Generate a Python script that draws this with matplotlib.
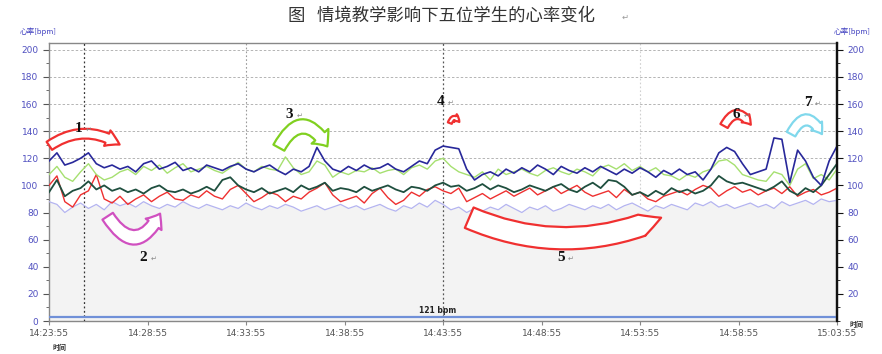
import matplotlib
matplotlib.use("Agg")
import matplotlib.pyplot as plt
import numpy as np
from matplotlib.patches import FancyArrowPatch
from matplotlib.ticker import MultipleLocator

plt.rcParams['font.family'] = ['Noto Sans CJK SC', 'DejaVu Sans']

# time axis: minutes after 14:23:55, sampled every 0.4 min
step = 0.4
tick_labels = ["14:23:55", "14:28:55", "14:33:55", "14:38:55", "14:43:55",
               "14:48:55", "14:53:55", "14:58:55", "15:03:55"]

navy = [118, 124, 115, 117, 120, 124, 116, 113, 115, 112,
        114, 110, 116, 118, 112, 114, 117, 111, 113, 110,
        115, 113, 111, 114, 116, 112, 110, 113, 115, 111,
        108, 112, 110, 114, 128, 118, 112, 110, 114, 111,
        115, 112, 113, 116, 112, 110, 114, 118, 116, 126,
        129, 128, 127, 112, 104, 108, 110, 107, 112, 109,
        113, 110, 115, 112, 108, 114, 111, 109, 113, 110,
        114, 111, 108, 112, 109, 113, 110, 106, 111, 108,
        112, 108, 110, 104, 112, 124, 128, 125, 116, 108,
        110, 112, 135, 134, 102, 126, 118, 106, 100, 118,
        129]

lime = [108, 114, 106, 103, 110, 116, 108, 104, 106, 110,
        112, 108, 114, 111, 115, 109, 113, 116, 110, 112,
        114, 111, 109, 113, 117, 112, 110, 114, 112, 111,
        121, 113, 108, 110, 118, 115, 106, 110, 108, 111,
        110, 113, 109, 111, 112, 108, 113, 115, 112, 118,
        120, 114, 110, 108, 106, 110, 104, 112, 108, 110,
        112, 109, 107, 111, 113, 110, 108, 112, 110, 107,
        113, 115, 112, 116, 111, 114, 110, 113, 108, 107,
        104, 108, 106, 110, 112, 118, 119, 115, 108, 106,
        104, 103, 110, 108, 100, 112, 116, 105, 108, 104,
        112]

teal = [95, 104, 92, 96, 98, 103, 97, 100, 96, 98,
        95, 97, 94, 98, 100, 96, 95, 97, 94, 96,
        99, 96, 104, 106, 100, 97, 95, 98, 94, 96,
        98, 95, 100, 97, 99, 102, 96, 98, 97, 95,
        99, 96, 98, 100, 97, 95, 99, 98, 96, 100,
        102, 99, 100, 96, 98, 101, 97, 100, 98, 95,
        97, 100, 98, 96, 99, 101, 97, 95, 99, 102,
        98, 104, 103, 99, 93, 95, 92, 96, 93, 98,
        95, 97, 94, 96, 100, 107, 103, 101, 102, 100,
        98, 96, 99, 103, 96, 93, 98, 95, 100, 108,
        116]

red = [100, 107, 88, 84, 93, 96, 108, 90, 87, 92,
       86, 90, 93, 88, 92, 95, 90, 89, 93, 91,
       96, 92, 90, 97, 100, 94, 88, 91, 95, 93,
       88, 92, 90, 95, 98, 102, 93, 88, 90, 92,
       87, 94, 98, 91, 86, 89, 95, 92, 97, 99,
       96, 94, 98, 88, 91, 94, 90, 93, 96, 92,
       95, 98, 93, 96, 99, 94, 97, 100, 95, 92,
       94, 96, 91, 97, 93, 95, 90, 88, 92, 94,
       96, 93, 97, 100, 98, 92, 96, 99, 95, 97,
       93, 96, 98, 94, 99, 92, 95, 97, 93, 95,
       98]

lavender = [88, 86, 80, 84, 87, 83, 86, 82, 88, 85,
            87, 84, 88, 85, 83, 86, 84, 88, 85, 83,
            86, 84, 82, 85, 83, 87, 84, 82, 85, 83,
            86, 84, 81, 83, 85, 82, 84, 86, 83, 85,
            82, 84, 86, 83, 81, 85, 83, 87, 84, 89,
            86, 82, 84, 80, 83, 81, 84, 82, 86, 83,
            80, 84, 82, 85, 81, 83, 86, 84, 82, 85,
            83, 86, 82, 85, 87, 84, 81, 85, 83, 86,
            84, 82, 87, 85, 88, 84, 86, 83, 85, 87,
            84, 86, 83, 88, 85, 87, 89, 86, 90, 88,
            89]

baseline_bpm = 3
baseline_label = "121 bpm"

t = np.arange(len(navy)) * step

fig = plt.figure(figsize=(8.82, 3.54), dpi=100)
ax = fig.add_axes([0.0556, 0.0932, 0.8934, 0.7853])

ax.set_xlim(0, 40)
ax.set_ylim(0, 205)

# grid: horizontal dashed lines in the upper band, vertical every 10 min
for yv in [120, 140, 160, 180, 200]:
    ax.axhline(yv, color="#b4b4b4", ls=(0, (2.5, 2)), lw=0.7, zorder=0)
ax.axvline(10, color="#9a9a9a", ls=(0, (1.5, 2)), lw=0.8, zorder=0)
ax.axvline(30, color="#d0d0d0", ls=(0, (1.5, 2)), lw=0.8, zorder=0)
ax.axvline(20, color="#555555", ls=(0, (1.5, 2)), lw=0.9, zorder=3)
ax.axvline(1.8, color="#333333", ls=(0, (1.5, 2)), lw=0.9, zorder=3)

ax.fill_between(t, 0, lavender, color="#f3f3f3", zorder=1, lw=0)

ax.plot(t, lavender, color="#b4b4f0", lw=0.9, zorder=4)
ax.plot(t, red, color="#ee3030", lw=1.0, zorder=5)
ax.plot(t, teal, color="#1f4f3f", lw=1.3, zorder=6)
ax.plot(t, lime, color="#a6e070", lw=1.0, zorder=5)
ax.plot(t, navy, color="#28289a", lw=1.2, zorder=7)

ax.axhline(baseline_bpm, color="#7090d8", lw=1.6, zorder=4)
ax.text(18.8, baseline_bpm + 3, baseline_label, fontsize=5.5, color="#222222",
        fontweight="bold", family="DejaVu Sans")

# axes frame
for side in ["left", "top", "bottom"]:
    ax.spines[side].set_color("#888888")
    ax.spines[side].set_linewidth(1.0)
ax.spines["right"].set_color("#111111")
ax.spines["right"].set_linewidth(1.6)

ax.set_xticks(np.arange(0, 41, 5))
ax.set_xticklabels(tick_labels, fontsize=6.5, color="#555555", family="DejaVu Sans")
ax.tick_params(axis="x", length=3, color="#888888", pad=3)

ax.yaxis.set_major_locator(MultipleLocator(20))
ax.yaxis.set_minor_locator(MultipleLocator(10))
ax.tick_params(axis="y", which="major", length=4, labelsize=6.5,
               labelcolor="#5050c0", color="#555555")
ax.tick_params(axis="y", which="minor", length=2, color="#555555")
for lbl in ax.get_yticklabels():
    lbl.set_family("DejaVu Sans")

# right-hand bpm scale (no label at zero)
axr = ax.twinx()
axr.set_ylim(ax.get_ylim())
axr.set_yticks(np.arange(20, 201, 20))
axr.yaxis.set_minor_locator(MultipleLocator(10))
axr.tick_params(axis="y", which="major", length=4, labelsize=6.5,
                labelcolor="#5050c0", color="#111111")
axr.tick_params(axis="y", which="minor", length=2, color="#111111")
for lbl in axr.get_yticklabels():
    lbl.set_family("DejaVu Sans")
for side in ["left", "top", "bottom"]:
    axr.spines[side].set_visible(False)
axr.spines["right"].set_color("#111111")
axr.spines["right"].set_linewidth(1.6)

# axis captions
fig.text(0.022, 0.905, "心率[bpm]", fontsize=5.5, color="#4040c0")
fig.text(0.945, 0.905, "心率[bpm]", fontsize=5.5, color="#4040c0")
fig.text(0.060, 0.012, "时间", fontsize=5, color="#333333", fontweight="bold")
fig.text(0.963, 0.075, "时间", fontsize=5, color="#333333", fontweight="bold")

fig.text(0.5, 0.955, "图   情境教学影响下五位学生的心率变化", fontsize=12.5,
         color="#333333", ha="center", va="center")
fig.text(0.705, 0.95, "↵", fontsize=6, color="#999999", va="center",
         family="DejaVu Sans")


def curved_arrow(p0, p1, rad, color, head_len, head_w, tail_w, scale=10):
    arr = FancyArrowPatch(
        p0, p1,
        connectionstyle=f"arc3,rad={rad}",
        arrowstyle=f"simple,head_length={head_len},head_width={head_w},tail_width={tail_w}",
        mutation_scale=scale, facecolor="white", edgecolor=color, lw=1.6,
        zorder=9, clip_on=False)
    ax.add_patch(arr)


curved_arrow((-0.1, 128), (3.7, 129), -0.35, "#f03030", 1.0, 1.2, 0.7)
curved_arrow((2.9, 79), (5.7, 81), 0.9, "#d050c0", 0.9, 1.4, 0.9)
curved_arrow((11.6, 126), (14.2, 127), -0.9, "#80d020", 0.9, 1.6, 0.9)
curved_arrow((20.3, 144), (20.9, 145), -1.2, "#f03030", 0.4, 0.6, 0.3)
curved_arrow((21.2, 77), (31.2, 77), 0.22, "#f03030", 1.5, 1.6, 1.6)
curved_arrow((34.2, 142), (35.7, 143), -0.9, "#f03030", 0.6, 0.8, 0.6)
curved_arrow((37.6, 136), (39.3, 136), -1.0, "#80d8ec", 0.7, 1.0, 0.7)

# event numbers
events = [("1", 1.5, 142), ("2", 4.8, 47), ("3", 12.2, 152), ("4", 19.9, 162),
          ("5", 26.0, 47), ("6", 34.9, 152), ("7", 38.5, 161)]
for num, ex, ey in events:
    ax.text(ex, ey, num, fontsize=11, fontweight="bold", family="Liberation Serif",
            color="#111111", ha="center", va="center", zorder=10)
    ax.text(ex + 0.35, ey - 1, "↵", fontsize=5, color="#888888",
            family="DejaVu Sans", va="center", zorder=10)

fig.savefig("out.png", dpi=100, facecolor="white")
